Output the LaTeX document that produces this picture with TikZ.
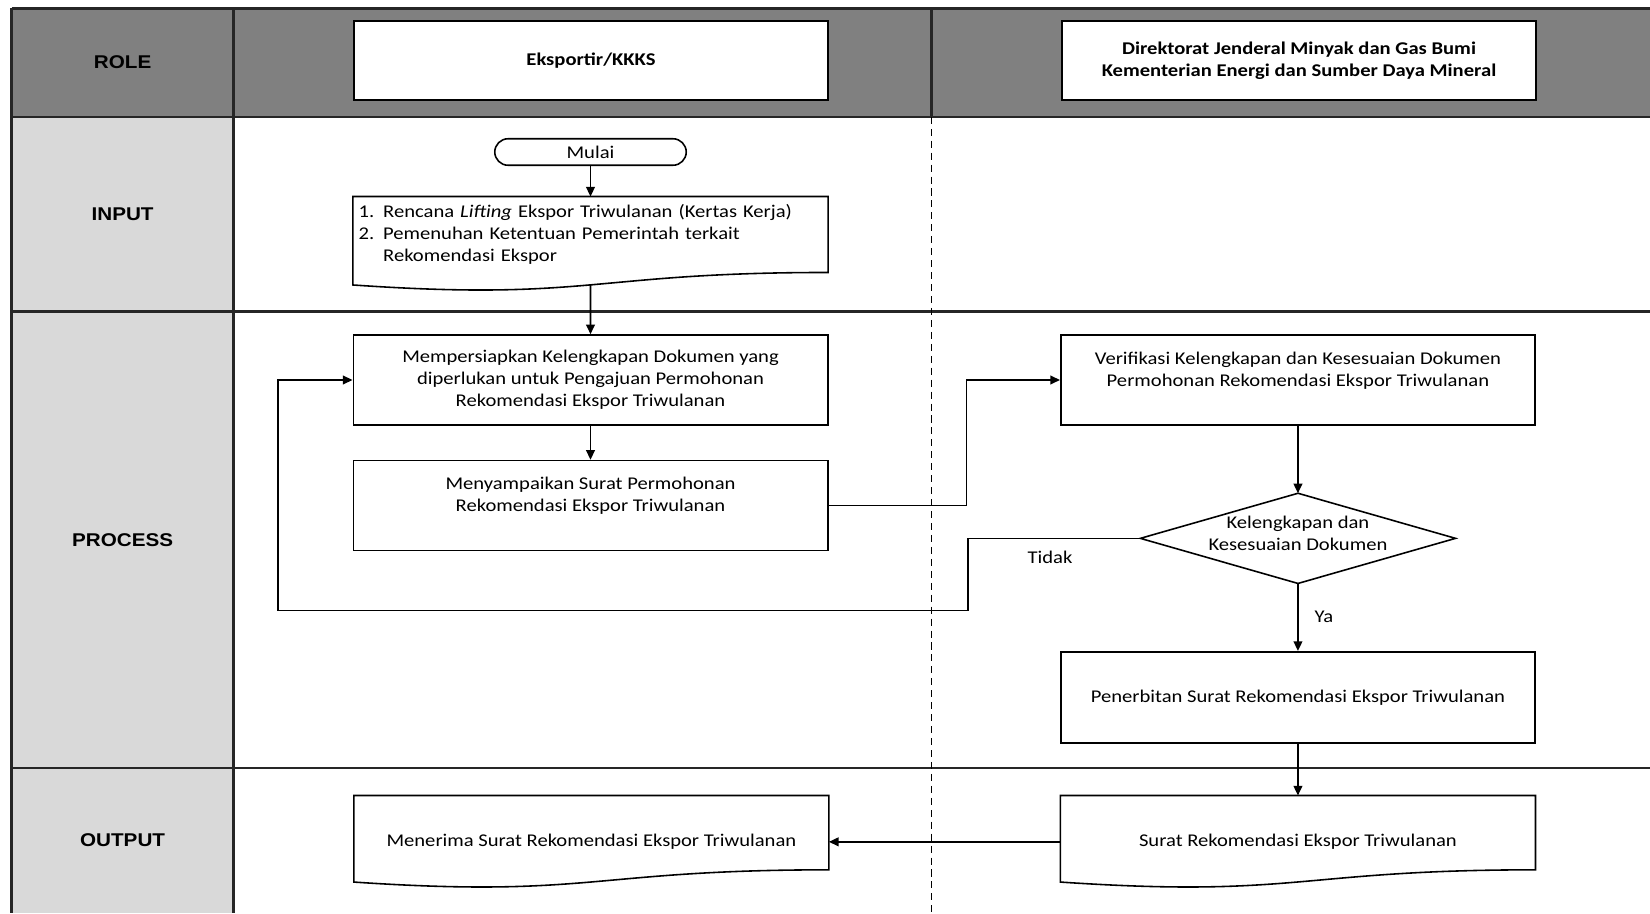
\documentclass[tikz,border=0pt]{standalone}
\usepackage{fontspec}
\setmainfont[FakeStretch=1.15]{Carlito}
\newfontfamily\rowfont[FakeStretch=1.12]{Liberation Sans}
\usepackage{xcolor}
\usepackage{tikz}
\usetikzlibrary{positioning, arrows.meta, calc}

\definecolor{headgray}{HTML}{808080}
\definecolor{colgray}{HTML}{D9D9D9}

\begin{document}
\begin{tikzpicture}[
    x=0.02cm, y=-0.02cm,
    >={Triangle[length=5.5pt, width=5pt]},
    font=\fontsize{10.2}{12.5}\selectfont,
    gridline/.style={line width=1.4pt, black!85},
    laneline/.style={line width=0.9pt, black, dash pattern=on 4pt off 2.8pt},
    rowlabel/.style={font=\rowfont\bfseries\fontsize{10.5}{12}\selectfont},
    rolebox/.style={
        rectangle, draw=black, fill=white, line width=0.9pt,
        minimum width=9.49cm, minimum height=1.58cm, align=center,
        font=\bfseries\fontsize{10.2}{12.5}\selectfont
    },
    startbox/.style={
        rectangle, rounded corners=0.265cm, draw=black, line width=0.9pt,
        minimum width=3.83cm, minimum height=0.53cm, inner sep=1pt
    },
    procbox/.style={
        rectangle, draw=black, line width=0.9pt,
        minimum width=9.49cm, minimum height=1.8cm, align=center
    },
    decbox/.style={
        rectangle, minimum width=6.29cm, minimum height=1.79cm,
        align=center, inner sep=0pt
    },
    docbox/.style={
        rectangle, minimum width=9.49cm, minimum height=1.84cm,
        align=center
    },
    docline/.style={line width=0.9pt, black},
    arrstyle/.style={->, line width=0.9pt, black},
    flowlabel/.style={inner sep=1pt},
]

\useasboundingbox (0,0) rectangle (1650,913);

% ---- Table ----
\fill[headgray] (11.6,8.4) rectangle (1650,116.8);
\fill[colgray] (11.6,116.8) rectangle (233.6,913);
\draw[gridline] (11.6,8.4) -- (1650,8.4);
\foreach \y in {116.8, 311.5, 768.2} {
    \draw[gridline] (11.6,\y) -- (1650,\y);
}
\draw[gridline] (11.6,8.4) -- (11.6,913);
\draw[gridline] (233.6,8.4) -- (233.6,913);
\draw[gridline] (931.3,8.4) -- (931.3,116.8);
\draw[laneline] (931.3,116.8) -- (931.3,913);

% ---- Row labels ----
\node[rowlabel] (lrole) at (122.6,62.6) {ROLE};
\node[rowlabel] (linput) at (122.6,214) {INPUT};
\node[rowlabel] (lprocess) at (122.6,540) {PROCESS};
\node[rowlabel] (loutput) at (122.6,840.5) {OUTPUT};

% ---- Roles ----
\node[rolebox] (reks) at (591,60.5) {Eksportir/KKKS};
\node[rolebox] (rdit) at (1299,60.5)
    {Direktorat Jenderal Minyak dan Gas Bumi\\Kementerian Energi dan Sumber Daya Mineral};

% ---- Eksportir lane ----
\node[startbox] (mulai) at (590.5,152) {Mulai};
\node[docbox, below=0.61cm of mulai, minimum height=1.88cm, align=left,
      inner xsep=3pt, text width=9.49cm-6pt] (indoc)
    {1. Rencana \textit{Lifting} Ekspor Triwulanan (Kertas Kerja)\\
     2. Pemenuhan Ketentuan Pemerintah terkait\\
     \phantom{2. }Rekomendasi Ekspor\\ \mbox{}};
\node[procbox, below=0.86cm of indoc] (prep)
    {Mempersiapkan Kelengkapan Dokumen yang\\diperlukan untuk Pengajuan Permohonan\\Rekomendasi Ekspor Triwulanan};
\node[procbox, below=0.68cm of prep] (send)
    {Menyampaikan Surat Permohonan\\Rekomendasi Ekspor Triwulanan\\ \mbox{}};

% ---- Direktorat lane ----
\node[procbox, right=4.63cm of prep] (verify)
    {Verifikasi Kelengkapan dan Kesesuaian Dokumen\\Permohonan Rekomendasi Ekspor Triwulanan\\ \mbox{}};
\node[decbox, below=1.35cm of verify] (dec) {Kelengkapan dan\\Kesesuaian Dokumen\\[-7pt]\mbox{}};
\draw[docline] (dec.north) -- (dec.east) -- (dec.south) -- (dec.west) -- cycle;
\node[procbox, below=1.35cm of dec, minimum height=1.83cm] (issue)
    {Penerbitan Surat Rekomendasi Ekspor Triwulanan};

% ---- Output ----
\node[docbox, below=1.03cm of issue] (outr) {Surat Rekomendasi Ekspor Triwulanan};
\node[docbox, left=4.63cm of outr] (outl) {Menerima Surat Rekomendasi Ekspor Triwulanan};

% document outlines
\foreach \d in {indoc, outl, outr} {
    \draw[docline] (\d.north west) -- (\d.north east)
        -- ($(\d.north east)!0.802!(\d.south east)$)
        .. controls ($(\d.north)!0.802!(\d.south)$) and ($(\d.north)!1.1075!(\d.south)$)
        .. ($(\d.north west)!0.934!(\d.south west)$) -- cycle;
}

% ---- Connectors ----
\coordinate (indocb) at ($(indoc.north)!0.933!(indoc.south)$);
\coordinate (jog) at ($(send.east)+(137.8,0)$);
\coordinate (tida) at (968,610.3);
\coordinate (tidb) at (277.8,610.3);

\draw[arrstyle] (mulai) -- (indoc);
\draw[arrstyle] (indocb) -- (prep);
\draw[arrstyle] (prep) -- (send);
\draw[arrstyle] (send.east) -- (jog) |- (verify.west);
\draw[arrstyle] (verify) -- (dec);
\draw[arrstyle] (dec.south) -- node[flowlabel, right=8pt] (ya) {Ya} (issue);
\draw[arrstyle] (dec.west) -| (tida) -- (tidb) |- (prep.west);
\node[flowlabel] (tidak) at (1050,557.7) {Tidak};
\draw[arrstyle] (issue) -- (outr);
\draw[arrstyle] (outr) -- (outl);

\end{tikzpicture}
\end{document}
